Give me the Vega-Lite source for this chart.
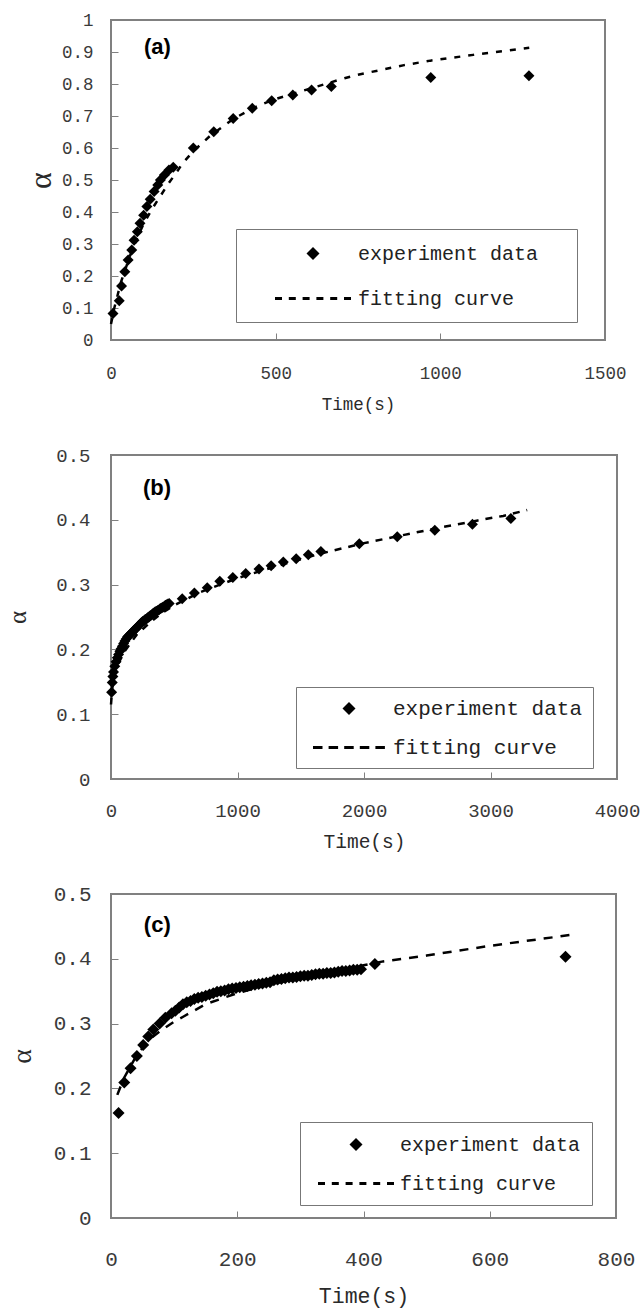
{
  "$schema": "https://vega.github.io/schema/vega-lite/v6.json",
  "padding": {"left": 4, "top": 10, "right": 2, "bottom": 0},
  "bounds": "flush",
  "spacing": 115,
  "config": {
    "view": {"stroke": "#808080", "strokeWidth": 2},
    "font": "Liberation Mono",
    "axis": {"domain": false, "grid": false, "tickColor": "#808080", "tickSize": -7, "tickWidth": 1, "labelFont": "Liberation Mono", "labelColor": "#3a3a3a", "labelFlush": false, "labelOverlap": false, "titleFont": "Liberation Mono", "titleFontWeight": "normal", "titleColor": "#2a2a2a", "format": "~g"}
  },
  "resolve": {"scale": {"x": "independent", "y": "independent", "shape": "independent"}, "legend": {"shape": "independent"}},
  "datasets": {
    "a_exp": [
      {"t": 6, "alpha": 0.083, "series": "experiment data"}, {"t": 25, "alpha": 0.123, "series": "experiment data"}, {"t": 32, "alpha": 0.169, "series": "experiment data"}, {"t": 42, "alpha": 0.213, "series": "experiment data"}, {"t": 52, "alpha": 0.25, "series": "experiment data"}, {"t": 63, "alpha": 0.281, "series": "experiment data"}, {"t": 70, "alpha": 0.312, "series": "experiment data"}, {"t": 80, "alpha": 0.338, "series": "experiment data"}, {"t": 88, "alpha": 0.365, "series": "experiment data"}, {"t": 99, "alpha": 0.39, "series": "experiment data"}, {"t": 109, "alpha": 0.417, "series": "experiment data"}, {"t": 119, "alpha": 0.44, "series": "experiment data"}, {"t": 131, "alpha": 0.464, "series": "experiment data"}, {"t": 142, "alpha": 0.484, "series": "experiment data"}, {"t": 150, "alpha": 0.5, "series": "experiment data"}, {"t": 162, "alpha": 0.516, "series": "experiment data"}, {"t": 176, "alpha": 0.531, "series": "experiment data"}, {"t": 189, "alpha": 0.54, "series": "experiment data"}, {"t": 250, "alpha": 0.6, "series": "experiment data"}, {"t": 312, "alpha": 0.651, "series": "experiment data"}, {"t": 371, "alpha": 0.692, "series": "experiment data"}, {"t": 429, "alpha": 0.724, "series": "experiment data"}, {"t": 488, "alpha": 0.748, "series": "experiment data"}, {"t": 552, "alpha": 0.766, "series": "experiment data"}, {"t": 609, "alpha": 0.781, "series": "experiment data"}, {"t": 669, "alpha": 0.792, "series": "experiment data"}, {"t": 971, "alpha": 0.82, "series": "experiment data"}, {"t": 1269, "alpha": 0.826, "series": "experiment data"}
    ],
    "a_fit": [
      {"t": 0, "alpha": 0.05}, {"t": 10, "alpha": 0.1}, {"t": 20, "alpha": 0.14}, {"t": 30, "alpha": 0.18}, {"t": 40, "alpha": 0.21}, {"t": 50, "alpha": 0.24}, {"t": 60, "alpha": 0.27}, {"t": 80, "alpha": 0.32}, {"t": 100, "alpha": 0.365}, {"t": 125, "alpha": 0.41}, {"t": 150, "alpha": 0.45}, {"t": 175, "alpha": 0.49}, {"t": 200, "alpha": 0.525}, {"t": 217, "alpha": 0.552}, {"t": 250, "alpha": 0.59}, {"t": 300, "alpha": 0.637}, {"t": 370, "alpha": 0.69}, {"t": 430, "alpha": 0.724}, {"t": 490, "alpha": 0.75}, {"t": 550, "alpha": 0.769}, {"t": 610, "alpha": 0.787}, {"t": 670, "alpha": 0.806}, {"t": 709, "alpha": 0.818}, {"t": 750, "alpha": 0.829}, {"t": 820, "alpha": 0.844}, {"t": 890, "alpha": 0.859}, {"t": 970, "alpha": 0.873}, {"t": 1100, "alpha": 0.891}, {"t": 1270, "alpha": 0.913}
    ],
    "b_exp": [
      {"t": 5, "alpha": 0.134, "series": "experiment data"}, {"t": 10, "alpha": 0.149, "series": "experiment data"}, {"t": 15, "alpha": 0.158, "series": "experiment data"}, {"t": 20, "alpha": 0.165, "series": "experiment data"}, {"t": 30, "alpha": 0.174, "series": "experiment data"}, {"t": 40, "alpha": 0.181, "series": "experiment data"}, {"t": 50, "alpha": 0.187, "series": "experiment data"}, {"t": 60, "alpha": 0.192, "series": "experiment data"}, {"t": 70, "alpha": 0.197, "series": "experiment data"}, {"t": 80, "alpha": 0.201, "series": "experiment data"}, {"t": 90, "alpha": 0.205, "series": "experiment data"}, {"t": 100, "alpha": 0.209, "series": "experiment data"}, {"t": 110, "alpha": 0.213, "series": "experiment data"}, {"t": 120, "alpha": 0.216, "series": "experiment data"}, {"t": 130, "alpha": 0.219, "series": "experiment data"}, {"t": 140, "alpha": 0.221, "series": "experiment data"}, {"t": 150, "alpha": 0.223, "series": "experiment data"}, {"t": 160, "alpha": 0.225, "series": "experiment data"}, {"t": 170, "alpha": 0.227, "series": "experiment data"}, {"t": 180, "alpha": 0.229, "series": "experiment data"}, {"t": 190, "alpha": 0.231, "series": "experiment data"}, {"t": 200, "alpha": 0.233, "series": "experiment data"}, {"t": 210, "alpha": 0.235, "series": "experiment data"}, {"t": 220, "alpha": 0.237, "series": "experiment data"}, {"t": 230, "alpha": 0.239, "series": "experiment data"}, {"t": 240, "alpha": 0.241, "series": "experiment data"}, {"t": 250, "alpha": 0.243, "series": "experiment data"}, {"t": 260, "alpha": 0.244, "series": "experiment data"}, {"t": 270, "alpha": 0.246, "series": "experiment data"}, {"t": 280, "alpha": 0.247, "series": "experiment data"}, {"t": 290, "alpha": 0.249, "series": "experiment data"}, {"t": 300, "alpha": 0.25, "series": "experiment data"}, {"t": 310, "alpha": 0.252, "series": "experiment data"}, {"t": 320, "alpha": 0.253, "series": "experiment data"}, {"t": 330, "alpha": 0.255, "series": "experiment data"}, {"t": 340, "alpha": 0.256, "series": "experiment data"}, {"t": 350, "alpha": 0.258, "series": "experiment data"}, {"t": 360, "alpha": 0.259, "series": "experiment data"}, {"t": 370, "alpha": 0.26, "series": "experiment data"}, {"t": 380, "alpha": 0.261, "series": "experiment data"}, {"t": 390, "alpha": 0.263, "series": "experiment data"}, {"t": 400, "alpha": 0.264, "series": "experiment data"}, {"t": 410, "alpha": 0.265, "series": "experiment data"}, {"t": 420, "alpha": 0.266, "series": "experiment data"}, {"t": 430, "alpha": 0.268, "series": "experiment data"}, {"t": 440, "alpha": 0.269, "series": "experiment data"}, {"t": 450, "alpha": 0.27, "series": "experiment data"}, {"t": 460, "alpha": 0.271, "series": "experiment data"}, {"t": 563, "alpha": 0.278, "series": "experiment data"}, {"t": 659, "alpha": 0.287, "series": "experiment data"}, {"t": 761, "alpha": 0.295, "series": "experiment data"}, {"t": 860, "alpha": 0.305, "series": "experiment data"}, {"t": 963, "alpha": 0.311, "series": "experiment data"}, {"t": 1065, "alpha": 0.317, "series": "experiment data"}, {"t": 1170, "alpha": 0.324, "series": "experiment data"}, {"t": 1266, "alpha": 0.329, "series": "experiment data"}, {"t": 1362, "alpha": 0.335, "series": "experiment data"}, {"t": 1464, "alpha": 0.34, "series": "experiment data"}, {"t": 1560, "alpha": 0.346, "series": "experiment data"}, {"t": 1659, "alpha": 0.351, "series": "experiment data"}, {"t": 1963, "alpha": 0.363, "series": "experiment data"}, {"t": 2263, "alpha": 0.374, "series": "experiment data"}, {"t": 2560, "alpha": 0.384, "series": "experiment data"}, {"t": 2857, "alpha": 0.393, "series": "experiment data"}, {"t": 3161, "alpha": 0.402, "series": "experiment data"}
    ],
    "b_fit": [
      {"t": 0, "alpha": 0.115}, {"t": 10, "alpha": 0.14}, {"t": 25, "alpha": 0.158}, {"t": 50, "alpha": 0.175}, {"t": 100, "alpha": 0.195}, {"t": 200, "alpha": 0.222}, {"t": 300, "alpha": 0.24}, {"t": 400, "alpha": 0.256}, {"t": 500, "alpha": 0.268}, {"t": 700, "alpha": 0.288}, {"t": 1000, "alpha": 0.31}, {"t": 1300, "alpha": 0.328}, {"t": 1660, "alpha": 0.348}, {"t": 2000, "alpha": 0.364}, {"t": 2300, "alpha": 0.376}, {"t": 2600, "alpha": 0.388}, {"t": 2900, "alpha": 0.399}, {"t": 3100, "alpha": 0.406}, {"t": 3290, "alpha": 0.415}
    ],
    "c_exp": [
      {"t": 12, "alpha": 0.162, "series": "experiment data"}, {"t": 21, "alpha": 0.209, "series": "experiment data"}, {"t": 31, "alpha": 0.231, "series": "experiment data"}, {"t": 41, "alpha": 0.25, "series": "experiment data"}, {"t": 51, "alpha": 0.267, "series": "experiment data"}, {"t": 59, "alpha": 0.28, "series": "experiment data"}, {"t": 67, "alpha": 0.291, "series": "experiment data"}, {"t": 77, "alpha": 0.3, "series": "experiment data"}, {"t": 86, "alpha": 0.309, "series": "experiment data"}, {"t": 96, "alpha": 0.316, "series": "experiment data"}, {"t": 102, "alpha": 0.32, "series": "experiment data"}, {"t": 108, "alpha": 0.325, "series": "experiment data"}, {"t": 114, "alpha": 0.33, "series": "experiment data"}, {"t": 120, "alpha": 0.333, "series": "experiment data"}, {"t": 126, "alpha": 0.335, "series": "experiment data"}, {"t": 132, "alpha": 0.338, "series": "experiment data"}, {"t": 138, "alpha": 0.34, "series": "experiment data"}, {"t": 144, "alpha": 0.341, "series": "experiment data"}, {"t": 150, "alpha": 0.343, "series": "experiment data"}, {"t": 156, "alpha": 0.345, "series": "experiment data"}, {"t": 162, "alpha": 0.347, "series": "experiment data"}, {"t": 168, "alpha": 0.349, "series": "experiment data"}, {"t": 174, "alpha": 0.35, "series": "experiment data"}, {"t": 180, "alpha": 0.351, "series": "experiment data"}, {"t": 186, "alpha": 0.353, "series": "experiment data"}, {"t": 192, "alpha": 0.354, "series": "experiment data"}, {"t": 198, "alpha": 0.355, "series": "experiment data"}, {"t": 204, "alpha": 0.356, "series": "experiment data"}, {"t": 210, "alpha": 0.357, "series": "experiment data"}, {"t": 216, "alpha": 0.358, "series": "experiment data"}, {"t": 222, "alpha": 0.359, "series": "experiment data"}, {"t": 228, "alpha": 0.36, "series": "experiment data"}, {"t": 234, "alpha": 0.361, "series": "experiment data"}, {"t": 240, "alpha": 0.362, "series": "experiment data"}, {"t": 246, "alpha": 0.363, "series": "experiment data"}, {"t": 252, "alpha": 0.364, "series": "experiment data"}, {"t": 258, "alpha": 0.367, "series": "experiment data"}, {"t": 264, "alpha": 0.368, "series": "experiment data"}, {"t": 270, "alpha": 0.369, "series": "experiment data"}, {"t": 276, "alpha": 0.37, "series": "experiment data"}, {"t": 282, "alpha": 0.371, "series": "experiment data"}, {"t": 288, "alpha": 0.371, "series": "experiment data"}, {"t": 294, "alpha": 0.372, "series": "experiment data"}, {"t": 300, "alpha": 0.373, "series": "experiment data"}, {"t": 306, "alpha": 0.374, "series": "experiment data"}, {"t": 312, "alpha": 0.374, "series": "experiment data"}, {"t": 318, "alpha": 0.375, "series": "experiment data"}, {"t": 324, "alpha": 0.376, "series": "experiment data"}, {"t": 330, "alpha": 0.377, "series": "experiment data"}, {"t": 336, "alpha": 0.377, "series": "experiment data"}, {"t": 342, "alpha": 0.378, "series": "experiment data"}, {"t": 348, "alpha": 0.378, "series": "experiment data"}, {"t": 354, "alpha": 0.379, "series": "experiment data"}, {"t": 360, "alpha": 0.38, "series": "experiment data"}, {"t": 366, "alpha": 0.381, "series": "experiment data"}, {"t": 372, "alpha": 0.381, "series": "experiment data"}, {"t": 378, "alpha": 0.382, "series": "experiment data"}, {"t": 384, "alpha": 0.383, "series": "experiment data"}, {"t": 390, "alpha": 0.383, "series": "experiment data"}, {"t": 396, "alpha": 0.384, "series": "experiment data"}, {"t": 418, "alpha": 0.392, "series": "experiment data"}, {"t": 720, "alpha": 0.403, "series": "experiment data"}
    ],
    "c_fit": [
      {"t": 10, "alpha": 0.19}, {"t": 20, "alpha": 0.215}, {"t": 40, "alpha": 0.25}, {"t": 60, "alpha": 0.275}, {"t": 80, "alpha": 0.29}, {"t": 100, "alpha": 0.303}, {"t": 115, "alpha": 0.311}, {"t": 150, "alpha": 0.33}, {"t": 200, "alpha": 0.347}, {"t": 250, "alpha": 0.36}, {"t": 300, "alpha": 0.371}, {"t": 350, "alpha": 0.381}, {"t": 400, "alpha": 0.39}, {"t": 431, "alpha": 0.396}, {"t": 500, "alpha": 0.405}, {"t": 600, "alpha": 0.42}, {"t": 737, "alpha": 0.438}
    ]
  },
  "vconcat": [
    {
      "width": 494, "height": 320,
      "layer": [
        {"data": {"name": "a_fit"}, "mark": {"type": "line", "color": "black", "strokeWidth": 2.5, "strokeDash": [6, 8]},
         "encoding": {
           "x": {"field": "t", "type": "quantitative", "scale": {"domain": [0, 1500], "nice": false, "zero": false},
                 "axis": {"values": [0, 500, 1000, 1500], "format": "d", "title": "Time(s)", "labelFontSize": 17.5, "labelPadding": 31, "titleFontSize": 17.5, "titlePadding": 14}},
           "y": {"field": "alpha", "type": "quantitative", "scale": {"domain": [0, 1], "nice": false},
                 "axis": {"values": [0, 0.1, 0.2, 0.3, 0.4, 0.5, 0.6, 0.7, 0.8, 0.9, 1], "title": "α", "titleFont": "Liberation Serif", "titleFontSize": 32, "labelFontSize": 17.5, "labelPadding": 25, "titlePadding": 4}}}},
        {"data": {"name": "a_exp"}, "mark": {"type": "point", "filled": true, "color": "black", "size": 286, "opacity": 1},
         "encoding": {
           "x": {"field": "t", "type": "quantitative", "scale": {"domain": [0, 1500], "nice": false, "zero": false},
                 "axis": {"values": [0, 500, 1000, 1500], "format": "d", "title": "Time(s)", "labelFontSize": 17.5, "labelPadding": 31, "titleFontSize": 17.5, "titlePadding": 14}},
           "y": {"field": "alpha", "type": "quantitative", "scale": {"domain": [0, 1], "nice": false},
                 "axis": {"values": [0, 0.1, 0.2, 0.3, 0.4, 0.5, 0.6, 0.7, 0.8, 0.9, 1], "title": "α", "titleFont": "Liberation Serif", "titleFontSize": 32, "labelFontSize": 17.5, "labelPadding": 25, "titlePadding": 4}},
           "shape": {"field": "series", "type": "nominal",
           "scale": {"domain": ["experiment data", "fitting curve"], "range": ["M-0.65,0L0,-0.65L0.65,0L0,0.65Z", "M-6.4,0M-3.8,-0.15H-3.1V0.15H-3.8ZM-2.42,-0.15H-1.72V0.15H-2.42ZM-1.04,-0.15H-0.34V0.15H-1.04ZM0.34,-0.15H1.04V0.15H0.34ZM1.72,-0.15H2.42V0.15H1.72ZM3.1,-0.15H3.8V0.15H3.1ZM24.5,0L24.51,0L24.51,0.01Z"]},
           "legend": {"title": null, "orient": "none", "direction": "vertical", "legendX": 125, "legendY": 209, "padding": 13, "rowPadding": 22, "symbolOffset": 52.5, "labelOffset": 33.5, "labelFont": "Liberation Mono", "labelFontSize": 20, "labelColor": "#222222", "labelLimit": 0, "strokeColor": "#777777", "fillColor": "white",
             "symbolSize": 400, "symbolStrokeWidth": 2.5, "symbolFillColor": "black", "symbolOpacity": 1,
             "encode": {"symbols": {"fill": {"value": "black"}, "stroke": {"value": "transparent"}, "strokeWidth": {"value": 2.5}, "size": {"value": 400}, "opacity": {"value": 1}}}}}}},
        {"data": {"values": [{"label": "(a)"}]}, "mark": {"type": "text", "font": "Liberation Sans", "fontWeight": "bold", "fontSize": 22, "align": "left", "baseline": "middle", "color": "black"},
         "encoding": {
           "x": {"datum": 100, "type": "quantitative", "scale": {"domain": [0, 1500], "nice": false, "zero": false},
                 "axis": {"values": [0, 500, 1000, 1500], "format": "d", "title": "Time(s)", "labelFontSize": 17.5, "labelPadding": 31, "titleFontSize": 17.5, "titlePadding": 14}},
           "y": {"datum": 0.916, "type": "quantitative", "scale": {"domain": [0, 1], "nice": false},
                 "axis": {"values": [0, 0.1, 0.2, 0.3, 0.4, 0.5, 0.6, 0.7, 0.8, 0.9, 1], "title": "α", "titleFont": "Liberation Serif", "titleFontSize": 32, "labelFontSize": 17.5, "labelPadding": 25, "titlePadding": 4}},
           "text": {"field": "label"}}}
      ]
    },
    {
      "width": 506, "height": 324,
      "layer": [
        {"data": {"name": "b_fit"}, "mark": {"type": "line", "color": "black", "strokeWidth": 2.5, "strokeDash": [7, 7]},
         "encoding": {
           "x": {"field": "t", "type": "quantitative", "scale": {"domain": [0, 4000], "nice": false, "zero": false},
                 "axis": {"values": [0, 1000, 2000, 3000, 4000], "format": "d", "title": "Time(s)", "labelFontSize": 19, "labelPadding": 29.5, "titleFontSize": 19.5, "titlePadding": 11.5}},
           "y": {"field": "alpha", "type": "quantitative", "scale": {"domain": [0, 0.5], "nice": false},
                 "axis": {"values": [0, 0.1, 0.2, 0.3, 0.4, 0.5], "title": "α", "titleFont": "Liberation Serif", "titleFontSize": 25, "labelFontSize": 19, "labelPadding": 28, "titlePadding": 25}}}},
        {"data": {"name": "b_exp"}, "mark": {"type": "point", "filled": true, "color": "black", "size": 286, "opacity": 1},
         "encoding": {
           "x": {"field": "t", "type": "quantitative", "scale": {"domain": [0, 4000], "nice": false, "zero": false},
                 "axis": {"values": [0, 1000, 2000, 3000, 4000], "format": "d", "title": "Time(s)", "labelFontSize": 19, "labelPadding": 29.5, "titleFontSize": 19.5, "titlePadding": 11.5}},
           "y": {"field": "alpha", "type": "quantitative", "scale": {"domain": [0, 0.5], "nice": false},
                 "axis": {"values": [0, 0.1, 0.2, 0.3, 0.4, 0.5], "title": "α", "titleFont": "Liberation Serif", "titleFontSize": 25, "labelFontSize": 19, "labelPadding": 28, "titlePadding": 25}},
           "shape": {"field": "series", "type": "nominal",
           "scale": {"domain": ["experiment data", "fitting curve"], "range": ["M-0.65,0L0,-0.65L0.65,0L0,0.65Z", "M-4.3,0M-3.6,-0.15H-2.65V0.15H-3.6ZM-2.04,-0.15H-1.09V0.15H-2.04ZM-0.48,-0.15H0.47V0.15H-0.48ZM1.08,-0.15H2.03V0.15H1.08ZM2.64,-0.15H3.59V0.15H2.64Z"]},
           "legend": {"title": null, "orient": "none", "direction": "vertical", "legendX": 185, "legendY": 232, "padding": 10, "rowPadding": 16, "symbolOffset": 31.5, "labelOffset": 32.5, "labelFont": "Liberation Mono", "labelFontSize": 21, "labelColor": "#222222", "labelLimit": 0, "strokeColor": "#777777", "fillColor": "white",
             "symbolSize": 400, "symbolStrokeWidth": 2.5, "symbolFillColor": "black", "symbolOpacity": 1,
             "encode": {"symbols": {"fill": {"value": "black"}, "stroke": {"value": "transparent"}, "strokeWidth": {"value": 2.5}, "size": {"value": 400}, "opacity": {"value": 1}}}}}}},
        {"data": {"values": [{"label": "(b)"}]}, "mark": {"type": "text", "font": "Liberation Sans", "fontWeight": "bold", "fontSize": 22, "align": "left", "baseline": "middle", "color": "black"},
         "encoding": {
           "x": {"datum": 253, "type": "quantitative", "scale": {"domain": [0, 4000], "nice": false, "zero": false},
                 "axis": {"values": [0, 1000, 2000, 3000, 4000], "format": "d", "title": "Time(s)", "labelFontSize": 19, "labelPadding": 29.5, "titleFontSize": 19.5, "titlePadding": 11.5}},
           "y": {"datum": 0.449, "type": "quantitative", "scale": {"domain": [0, 0.5], "nice": false},
                 "axis": {"values": [0, 0.1, 0.2, 0.3, 0.4, 0.5], "title": "α", "titleFont": "Liberation Serif", "titleFontSize": 25, "labelFontSize": 19, "labelPadding": 28, "titlePadding": 25}},
           "text": {"field": "label"}}}
      ]
    },
    {
      "width": 505, "height": 324,
      "layer": [
        {"data": {"name": "c_fit"}, "mark": {"type": "line", "color": "black", "strokeWidth": 2.5, "strokeDash": [9, 8]},
         "encoding": {
           "x": {"field": "t", "type": "quantitative", "scale": {"domain": [0, 800], "nice": false, "zero": false},
                 "axis": {"values": [0, 200, 400, 600, 800], "format": "d", "title": "Time(s)", "labelFontSize": 21, "labelPadding": 37.5, "titleFontSize": 21.5, "titlePadding": 16}},
           "y": {"field": "alpha", "type": "quantitative", "scale": {"domain": [0, 0.5], "nice": false},
                 "axis": {"values": [0, 0.1, 0.2, 0.3, 0.4, 0.5], "title": "α", "titleFont": "Liberation Serif", "titleFontSize": 28, "labelFontSize": 21, "labelPadding": 27, "titlePadding": 17}}}},
        {"data": {"name": "c_exp"}, "mark": {"type": "point", "filled": true, "color": "black", "size": 341, "opacity": 1},
         "encoding": {
           "x": {"field": "t", "type": "quantitative", "scale": {"domain": [0, 800], "nice": false, "zero": false},
                 "axis": {"values": [0, 200, 400, 600, 800], "format": "d", "title": "Time(s)", "labelFontSize": 21, "labelPadding": 37.5, "titleFontSize": 21.5, "titlePadding": 16}},
           "y": {"field": "alpha", "type": "quantitative", "scale": {"domain": [0, 0.5], "nice": false},
                 "axis": {"values": [0, 0.1, 0.2, 0.3, 0.4, 0.5], "title": "α", "titleFont": "Liberation Serif", "titleFontSize": 28, "labelFontSize": 21, "labelPadding": 27, "titlePadding": 17}},
           "shape": {"field": "series", "type": "nominal",
           "scale": {"domain": ["experiment data", "fitting curve"], "range": ["M-0.65,0L0,-0.65L0.65,0L0,0.65Z", "M-4.5,0M-3.8,-0.15H-3.1V0.15H-3.8ZM-2.42,-0.15H-1.72V0.15H-2.42ZM-1.04,-0.15H-0.34V0.15H-1.04ZM0.34,-0.15H1.04V0.15H0.34ZM1.72,-0.15H2.42V0.15H1.72ZM3.1,-0.15H3.8V0.15H3.1Z"]},
           "legend": {"title": null, "orient": "none", "direction": "vertical", "legendX": 189, "legendY": 228, "padding": 11, "rowPadding": 16, "symbolOffset": 33.5, "labelOffset": 32.5, "labelFont": "Liberation Mono", "labelFontSize": 20, "labelColor": "#222222", "labelLimit": 0, "strokeColor": "#777777", "fillColor": "white",
             "symbolSize": 400, "symbolStrokeWidth": 2.5, "symbolFillColor": "black", "symbolOpacity": 1,
             "encode": {"symbols": {"fill": {"value": "black"}, "stroke": {"value": "transparent"}, "strokeWidth": {"value": 2.5}, "size": {"value": 400}, "opacity": {"value": 1}}}}}}},
        {"data": {"values": [{"label": "(c)"}]}, "mark": {"type": "text", "font": "Liberation Sans", "fontWeight": "bold", "fontSize": 22, "align": "left", "baseline": "middle", "color": "black"},
         "encoding": {
           "x": {"datum": 52, "type": "quantitative", "scale": {"domain": [0, 800], "nice": false, "zero": false},
                 "axis": {"values": [0, 200, 400, 600, 800], "format": "d", "title": "Time(s)", "labelFontSize": 21, "labelPadding": 37.5, "titleFontSize": 21.5, "titlePadding": 16}},
           "y": {"datum": 0.452, "type": "quantitative", "scale": {"domain": [0, 0.5], "nice": false},
                 "axis": {"values": [0, 0.1, 0.2, 0.3, 0.4, 0.5], "title": "α", "titleFont": "Liberation Serif", "titleFontSize": 28, "labelFontSize": 21, "labelPadding": 27, "titlePadding": 17}},
           "text": {"field": "label"}}}
      ]
    }
  ]
}
